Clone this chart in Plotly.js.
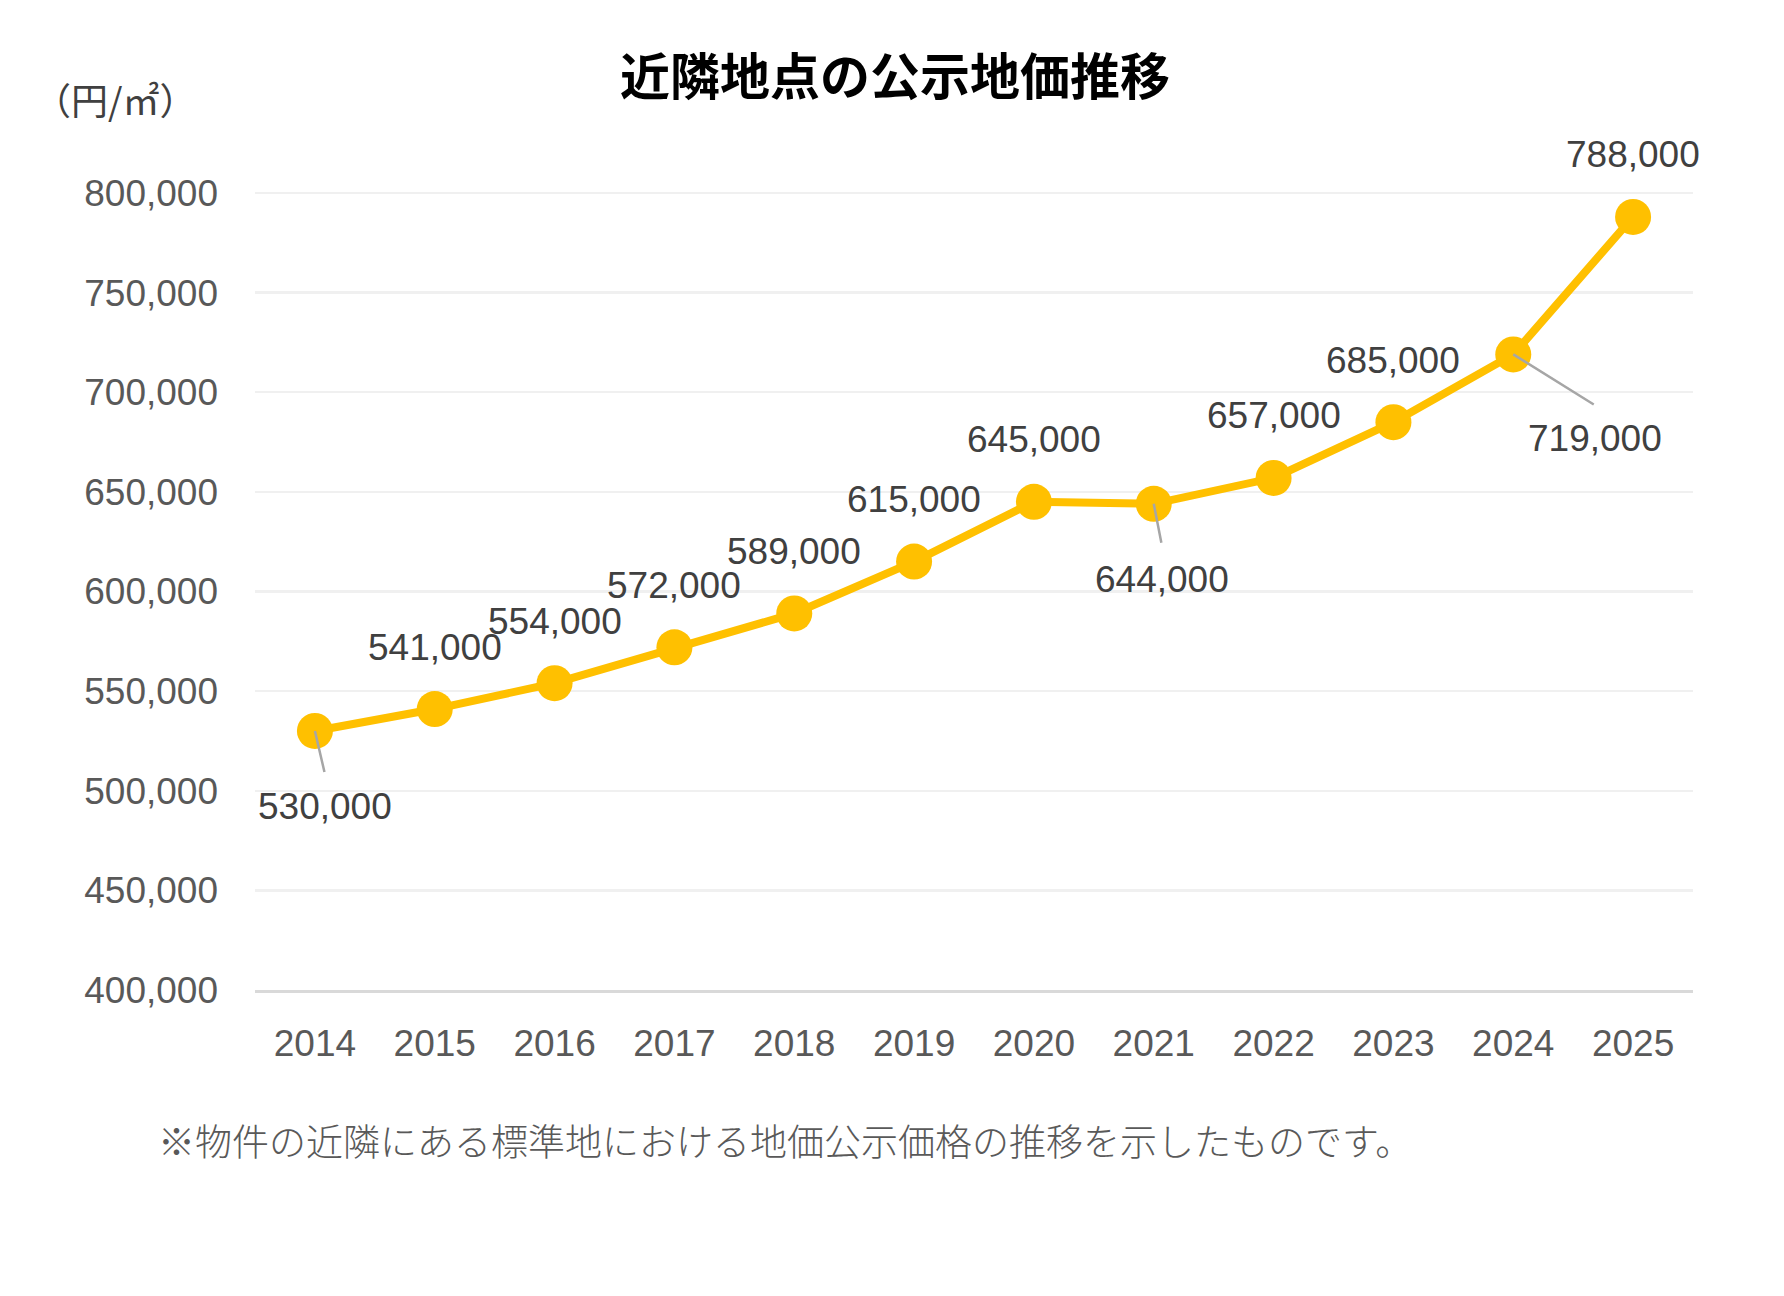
<!DOCTYPE html>
<html>
<head>
<meta charset="utf-8">
<script src="https://cdn.plot.ly/plotly-3.0.1.min.js"></script>
<style>
  html, body { margin: 0; padding: 0; background: #ffffff; }
  #chart { width: 1784px; height: 1296px; }
</style>
</head>
<body>
<div id="chart"></div>
<script>
// ---- data ----
const years = ['2014','2015','2016','2017','2018','2019','2020','2021','2022','2023','2024','2025'];
const prices = [530000, 541000, 554000, 572000, 589000, 615000, 645000, 644000, 657000, 685000, 719000, 788000];
const titleText = '近隣地点の公示地価推移';
const unitText = '（円/㎡）';
const noteText = '※物件の近隣にある標準地における地価公示価格の推移を示したものです。';

// ---- label placement (style) ----
const labelStyle = {
  '2014': {dx: 10, dy: 76, lx: 10, ly: 43},
  '2021': {dx: 8, dy: 76, lx: 8, ly: 41},
  '2024': {dx: 82, dy: 84, lx: 82, ly: 51}
};
const aboveShift = 62;

const numFont = 'Liberation Sans, Arial, sans-serif';
const jpFont = 'Noto Sans CJK JP, sans-serif';

const annotations = [];
years.forEach((yr, i) => {
  const txt = prices[i].toLocaleString('en-US');
  const st = labelStyle[yr];
  // category index on the category x axis
  if (st) {
    annotations.push({
      x: i, y: prices[i], xref: 'x', yref: 'y',
      text: ' ', showarrow: true, arrowhead: 0, arrowwidth: 2.5,
      arrowcolor: '#A6A6A6', standoff: 0, startstandoff: 0,
      ax: st.lx, ay: st.ly, axref: 'pixel', ayref: 'pixel',
      font: {size: 1}
    });
    annotations.push({
      x: i, y: prices[i], xref: 'x', yref: 'y',
      text: txt, showarrow: false,
      xshift: st.dx, yshift: -st.dy,
      font: {family: numFont, size: 37, color: '#404040'}
    });
  } else {
    annotations.push({
      x: i, y: prices[i], xref: 'x', yref: 'y',
      text: txt, showarrow: false,
      yshift: aboveShift,
      font: {family: numFont, size: 37, color: '#404040'}
    });
  }
});

annotations.push({
  xref: 'paper', yref: 'paper', x: -0.155, y: 1.114,
  xanchor: 'left', yanchor: 'middle', showarrow: false,
  text: unitText,
  font: {family: jpFont, size: 37, color: '#404040'}
});
annotations.push({
  xref: 'paper', yref: 'paper', x: -0.0685, y: -0.188,
  xanchor: 'left', yanchor: 'middle', showarrow: false,
  text: noteText,
  font: {family: jpFont, size: 37, color: '#595959', weight: 300}
});

const trace = {
  type: 'scatter',
  mode: 'lines+markers',
  x: years,
  y: prices,
  line: {color: '#FFC000', width: 8},
  marker: {color: '#FFC000', size: 36},
  cliponaxis: false,
  hoverinfo: 'skip'
};

const layout = {
  width: 1784,
  height: 1296,
  paper_bgcolor: '#ffffff',
  plot_bgcolor: '#ffffff',
  margin: {l: 255, r: 91, t: 190, b: 306, pad: 0},
  showlegend: false,
  title: {
    text: titleText,
    xref: 'container', yref: 'container',
    x: 0.5017, y: 0.94, xanchor: 'center', yanchor: 'middle',
    font: {family: jpFont, size: 50, color: '#000000', weight: 'bold'}
  },
  xaxis: {
    type: 'category',
    range: [-0.5, 11.5],
    showgrid: false,
    zeroline: false,
    showline: true,
    linecolor: '#D9D9D9',
    linewidth: 3,
    ticks: '',
    ticklabelstandoff: 19,
    tickfont: {family: numFont, size: 37, color: '#595959'},
    fixedrange: true
  },
  yaxis: {
    range: [400000, 801500],
    dtick: 50000,
    tick0: 400000,
    tickformat: ',d',
    showgrid: true,
    gridcolor: '#F0F0F0',
    gridwidth: 2.5,
    zeroline: false,
    showline: false,
    ticks: '',
    ticklabelstandoff: 36,
    tickfont: {family: numFont, size: 37, color: '#595959'},
    fixedrange: true
  },
  annotations: annotations
};

Plotly.newPlot('chart', [trace], layout, {displayModeBar: false, staticPlot: true});
</script>
</body>
</html>
